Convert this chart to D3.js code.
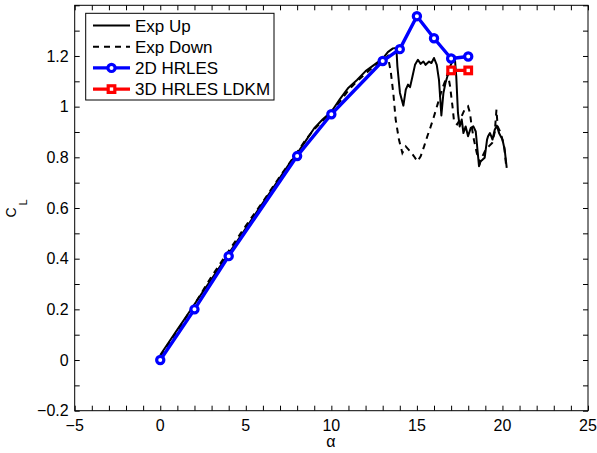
<!DOCTYPE html>
<html>
<head>
<meta charset="utf-8">
<script src="https://cdn.jsdelivr.net/npm/d3@7"></script>
<style>
  html, body { margin: 0; padding: 0; background: #fff; }
  svg { display: block; }
  text { font-family: Arial, "Liberation Sans", Helvetica, sans-serif; fill: #000; }
</style>
</head>
<body>
<svg id="chart" width="597" height="453"></svg>
<script>
// Lift coefficient vs. angle of attack
const xTicks = [-5, 0, 5, 10, 15, 20, 25];
const yTicks = [-0.2, 0, 0.2, 0.4, 0.6, 0.8, 1, 1.2];

// Experiment, increasing alpha [alpha, CL]
const expUp = [
  [0, 0.02], [0.5, 0.07], [1, 0.12], [1.5, 0.17], [2, 0.22], [2.5, 0.27],
  [3, 0.32], [3.5, 0.37], [4, 0.42], [4.5, 0.47], [5, 0.52], [5.5, 0.57],
  [6, 0.62], [6.5, 0.67], [7, 0.72], [7.5, 0.77], [8, 0.815], [8.5, 0.865],
  [9, 0.915], [9.5, 0.95], [10, 0.98], [10.5, 1.03], [11, 1.075], [11.5, 1.105],
  [12, 1.14], [12.5, 1.165], [13, 1.19], [13.3, 1.215], [13.6, 1.23], [13.8, 1.232],
  [13.86, 1.159], [14.01, 1.054], [14.21, 1.004], [14.35, 1.067], [14.48, 1.087],
  [14.6, 1.077], [14.74, 1.119], [14.89, 1.165], [15.06, 1.185], [15.22, 1.169],
  [15.38, 1.178], [15.51, 1.165], [15.71, 1.178], [15.85, 1.172], [16.0, 1.192],
  [16.16, 1.165], [16.29, 1.106], [16.43, 0.965], [16.55, 1.054], [16.67, 1.093],
  [16.78, 1.119], [16.94, 1.159], [17.08, 1.178], [17.21, 1.198], [17.3, 1.12],
  [17.4, 0.975], [17.5, 0.922], [17.62, 0.949], [17.72, 0.896], [17.85, 0.922],
  [17.99, 0.883], [18.15, 0.916], [18.3, 0.922], [18.44, 0.902], [18.54, 0.83],
  [18.63, 0.765], [18.7, 0.784], [18.83, 0.79], [18.96, 0.798], [19.1, 0.87],
  [19.16, 0.883], [19.27, 0.896], [19.42, 0.87], [19.55, 0.909], [19.67, 0.925],
  [19.8, 0.896], [20.0, 0.87], [20.13, 0.83], [20.25, 0.758]
];

// Experiment, decreasing alpha [alpha, CL]
const expDown = [
  [0, 0.015], [1, 0.115], [2, 0.22], [3, 0.33], [4, 0.43], [5, 0.53],
  [6, 0.625], [7, 0.725], [8, 0.82], [8.5, 0.87], [9, 0.91], [9.5, 0.945],
  [10, 0.98], [10.5, 1.02], [11, 1.065], [11.5, 1.1], [12, 1.13], [12.5, 1.16],
  [13, 1.18], [13.3, 1.2], [13.47, 1.139], [13.62, 1.054], [13.76, 0.949],
  [13.95, 0.87], [14.15, 0.817], [14.35, 0.843], [14.6, 0.824], [14.83, 0.804],
  [15.03, 0.784], [15.22, 0.804], [15.42, 0.843], [15.61, 0.883], [15.81, 0.922],
  [16.0, 0.962], [16.23, 1.014], [16.49, 1.073], [16.68, 1.106], [16.8, 1.133],
  [16.94, 1.08], [17.08, 1.001], [17.17, 0.942], [17.35, 0.93], [17.6, 0.96],
  [17.8, 0.99], [17.99, 1.001], [18.1, 0.975], [18.2, 0.922], [18.33, 0.87],
  [18.5, 0.817], [18.69, 0.778], [18.83, 0.804], [19.02, 0.83], [19.2, 0.843],
  [19.4, 0.857], [19.55, 0.9], [19.65, 0.988], [19.72, 0.922], [19.9, 0.896],
  [20.1, 0.843], [20.23, 0.758]
];

// 2D HRLES
const hrles2dAlpha = [0, 2, 4, 8, 10, 13, 14, 15, 16, 17, 18];
const hrles2dCL    = [0, 0.2, 0.41, 0.805, 0.97, 1.18, 1.227, 1.357, 1.27, 1.19, 1.198];

// 3D HRLES LDKM
const hrles3dAlpha = [17, 18];
const hrles3dCL    = [1.143, 1.143];

const svg = d3.select("#chart");
const pL = 74.7, pR = 588, pT = 5.3, pB = 410.7;

const x = d3.scaleLinear().domain([-5, 25]).range([pL, pR]);
const y = d3.scaleLinear().domain([-0.2, 1.4]).range([pB, pT]);

// Clip region for the data
svg.append("defs").append("clipPath").attr("id", "plotClip")
  .append("rect").attr("x", pL).attr("y", pT)
  .attr("width", pR - pL).attr("height", pB - pT);

const fmt = v => (v < 0 ? "\u2212" : "") + String(Math.abs(+v.toFixed(2)));

// Axes with inward ticks (major + minor) on all four sides
const tickLen = 5;
const minorX = d3.range(-5, 25.001, 1);
const minorY = d3.range(-0.2, 1.4001, 0.1);

const axB = svg.append("g").attr("transform", `translate(0,${pB})`)
  .call(d3.axisBottom(x).tickValues(minorX).tickSize(-tickLen).tickFormat(""));
const axT = svg.append("g").attr("transform", `translate(0,${pT})`)
  .call(d3.axisTop(x).tickValues(minorX).tickSize(-tickLen).tickFormat(""));
const axL = svg.append("g").attr("transform", `translate(${pL},0)`)
  .call(d3.axisLeft(y).tickValues(minorY).tickSize(-tickLen).tickFormat(""));
const axR = svg.append("g").attr("transform", `translate(${pR},0)`)
  .call(d3.axisRight(y).tickValues(minorY).tickSize(-tickLen).tickFormat(""));
[axB, axT, axL, axR].forEach(g => {
  g.select(".domain").remove();
  g.selectAll(".tick line").attr("stroke", "#000").attr("stroke-width", 1);
});

// Tick labels
svg.append("g").selectAll("text").data(xTicks).join("text")
  .attr("x", d => x(d)).attr("y", pB + 20)
  .attr("text-anchor", "middle").attr("font-size", 16)
  .text(d => fmt(d));
svg.append("g").selectAll("text").data(yTicks).join("text")
  .attr("x", pL - 6).attr("y", d => y(d)).attr("dy", "0.36em")
  .attr("text-anchor", "end").attr("font-size", 16)
  .text(d => fmt(d));

// Box
svg.append("rect").attr("x", pL).attr("y", pT)
  .attr("width", pR - pL).attr("height", pB - pT)
  .attr("fill", "none").attr("stroke", "#000").attr("stroke-width", 1);

// Axis titles
svg.append("text").attr("x", (pL + pR) / 2 - 0.5).attr("y", 447)
  .attr("text-anchor", "middle").attr("font-size", 16).text("\u03b1");
const yl = svg.append("text")
  .attr("transform", "translate(16,217.5) rotate(-90)")
  .attr("text-anchor", "start").attr("font-size", 14);
yl.append("tspan").text("C");
yl.append("tspan").attr("font-size", 11).attr("dx", 2).attr("dy", 11).text("L");

// Data
const plot = svg.append("g").attr("clip-path", "url(#plotClip)");
const line = d3.line().x(d => x(d[0])).y(d => y(d[1]));

plot.append("path").datum(expUp).attr("d", line)
  .attr("fill", "none").attr("stroke", "#000").attr("stroke-width", 2)
  .attr("stroke-linejoin", "round");
plot.append("path").datum(expDown).attr("d", line)
  .attr("fill", "none").attr("stroke", "#000").attr("stroke-width", 2)
  .attr("stroke-dasharray", "6,5");

const h2 = hrles2dAlpha.map((a, i) => [a, hrles2dCL[i]]);
const h3 = hrles3dAlpha.map((a, i) => [a, hrles3dCL[i]]);

plot.append("path").datum(h2).attr("d", line)
  .attr("fill", "none").attr("stroke", "#0000ff").attr("stroke-width", 3.4)
  .attr("stroke-linejoin", "round");
plot.append("g").selectAll("circle").data(h2).join("circle")
  .attr("cx", d => x(d[0])).attr("cy", d => y(d[1])).attr("r", 3.6)
  .attr("fill", "#fff").attr("stroke", "#0000ff").attr("stroke-width", 3.2);

plot.append("path").datum(h3).attr("d", line)
  .attr("fill", "none").attr("stroke", "#ff0000").attr("stroke-width", 3.4);
plot.append("g").selectAll("rect").data(h3).join("rect")
  .attr("x", d => x(d[0]) - 3.3).attr("y", d => y(d[1]) - 3.3)
  .attr("width", 6.6).attr("height", 6.6)
  .attr("fill", "#fff").attr("stroke", "#ff0000").attr("stroke-width", 3.2);

// Legend
const legendItems = [
  { name: "Exp Up", color: "#000", width: 2, dash: null, marker: null },
  { name: "Exp Down", color: "#000", width: 2, dash: "6,5", marker: null },
  { name: "2D HRLES", color: "#0000ff", width: 3.4, dash: null, marker: "circle" },
  { name: "3D HRLES LDKM", color: "#ff0000", width: 3.4, dash: null, marker: "square" }
];
const lg = svg.append("g");
lg.append("rect").attr("x", 85.7).attr("y", 13.3).attr("width", 188.3).attr("height", 86.7)
  .attr("fill", "#fff").attr("stroke", "#000").attr("stroke-width", 1);
const rows = lg.selectAll("g.item").data(legendItems).join("g")
  .attr("transform", (d, i) => `translate(0,${25.5 + i * 21.2})`);
rows.append("line").attr("x1", 93).attr("x2", 130).attr("y1", 0).attr("y2", 0)
  .attr("stroke", d => d.color).attr("stroke-width", d => d.width)
  .attr("stroke-dasharray", d => d.dash);
rows.filter(d => d.marker === "circle").append("circle")
  .attr("cx", 111.5).attr("cy", 0).attr("r", 3.6)
  .attr("fill", "#fff").attr("stroke", d => d.color).attr("stroke-width", 3.2);
rows.filter(d => d.marker === "square").append("rect")
  .attr("x", 111.5 - 3.3).attr("y", -3.3).attr("width", 6.6).attr("height", 6.6)
  .attr("fill", "#fff").attr("stroke", d => d.color).attr("stroke-width", 3.2);
rows.append("text").attr("x", 135).attr("y", 0).attr("dy", "0.36em")
  .attr("font-size", 17).text(d => d.name);
</script>
</body>
</html>
